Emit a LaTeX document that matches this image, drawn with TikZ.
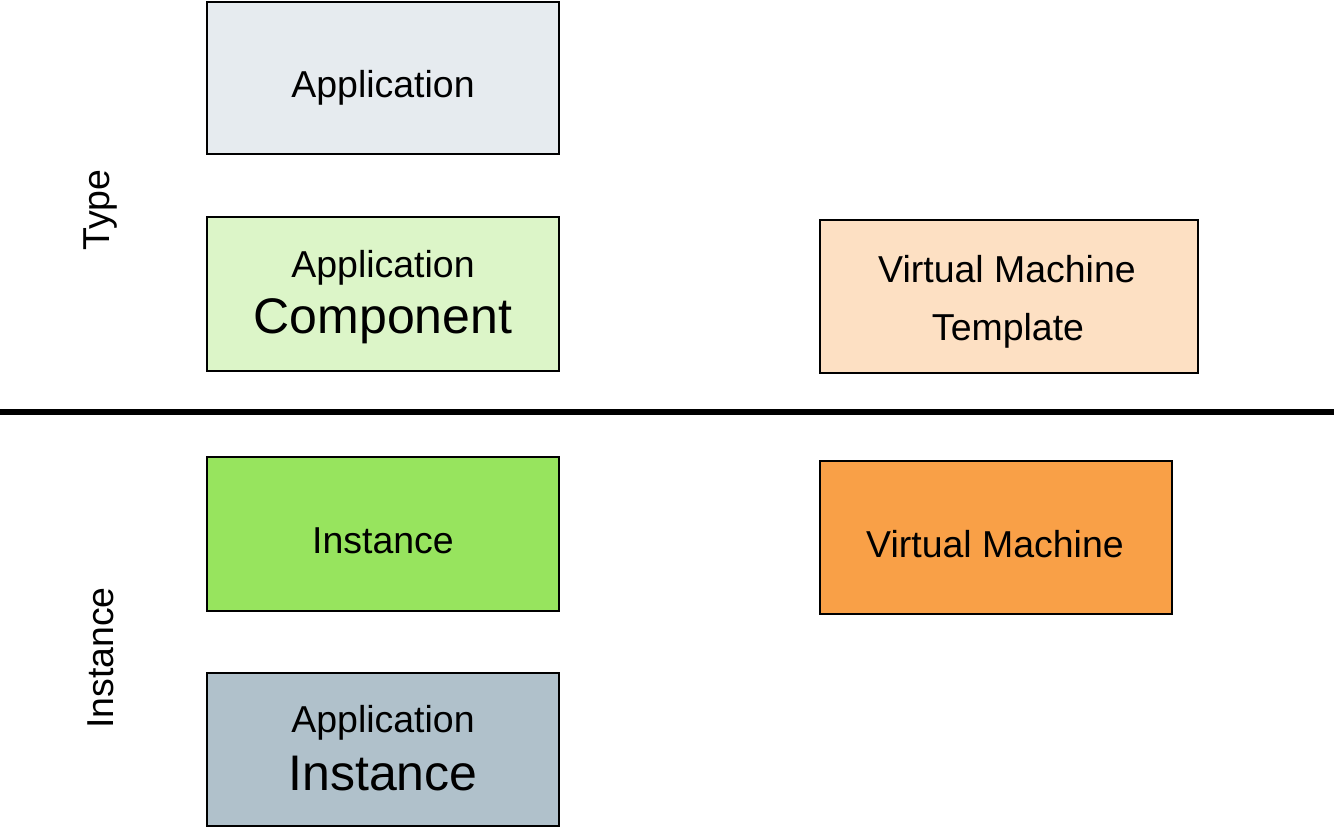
\documentclass[tikz,border=0pt]{standalone}
\usepackage{fontspec}
\setmainfont{Liberation Sans}
\definecolor{cApp}{HTML}{E6EBEF}
\definecolor{cComp}{HTML}{DCF5C8}
\definecolor{cTmpl}{HTML}{FDE0C3}
\definecolor{cInst}{HTML}{97E45E}
\definecolor{cVM}{HTML}{F9A047}
\definecolor{cAppInst}{HTML}{B0C1CB}
\tikzset{
  box/.style={draw=black, line width=1.5pt, rectangle, inner sep=0pt, outer sep=0pt},
  small/.style={font=\fontsize{28.1pt}{31pt}\selectfont, anchor=base, inner sep=0pt},
  big/.style={font=\fontsize{37.5pt}{41pt}\selectfont, anchor=base, inner sep=0pt},
}
\begin{document}
\begin{tikzpicture}[x=0.75pt,y=-0.75pt]
\useasboundingbox (0,0) rectangle (1339,833);
% boxes
\node[box, fill=cApp, minimum width=352*0.75pt, minimum height=152*0.75pt] (app) at (383,78) {};
\node[box, fill=cComp, minimum width=352*0.75pt, minimum height=154*0.75pt] (comp) at (383,294) {};
\node[box, fill=cTmpl, minimum width=378*0.75pt, minimum height=153*0.75pt] (tmpl) at (1009,296.5) {};
\node[box, fill=cInst, minimum width=352*0.75pt, minimum height=154*0.75pt] (inst) at (383,534) {};
\node[box, fill=cVM, minimum width=352*0.75pt, minimum height=153*0.75pt] (vm) at (996,537.5) {};
\node[box, fill=cAppInst, minimum width=352*0.75pt, minimum height=153*0.75pt] (appinst) at (383,749.5) {};
% texts
\node[small] (t1) at (383,97) {Application};
\node[small] (t2a) at (383,277) {Application};
\node[big] (t2b) at (383,333) {Component};
\node[small] (t3a) at (1007,282) {Virtual Machine};
\node[small] (t3b) at (1008,340) {Template};
\node[small] (t4) at (383,553) {Instance};
\node[small] (t5) at (995,557) {Virtual Machine};
\node[small] (t6a) at (383,732) {Application};
\node[big] (t6b) at (383,790) {Instance};
% side labels
\node[small, rotate=90] (ltype) at (109,210) {Type};
\node[small, rotate=90] (linst) at (113,658) {Instance};
% divider
\coordinate (dl) at (0,412);
\coordinate (dr) at (1334,412);
\draw[line width=4.5pt] (dl) -- (dr);
\end{tikzpicture}
\end{document}
